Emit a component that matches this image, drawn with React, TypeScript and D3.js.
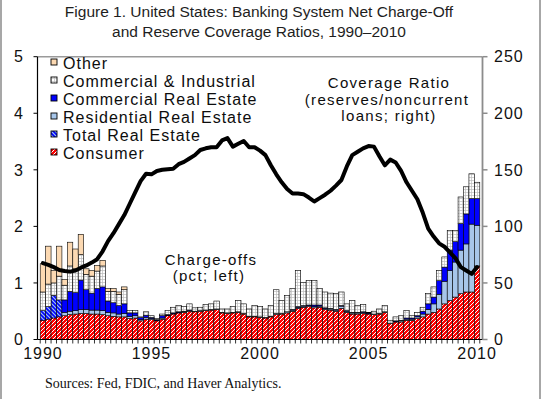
import React from 'react';
import * as d3 from 'd3';

// quarterly data, 1990Q1 .. 2010Q1
const quarters = d3.range(81).map(i => (1990 + Math.floor(i / 4)) + 'Q' + ((i % 4) + 1));

// net charge-offs, pct of loans (left axis)
const consumer = [
  0.34, 0.36, 0.38, 0.40, 0.42, 0.44, 0.45, 0.46, 0.46, 0.45,
  0.45, 0.44, 0.42, 0.41, 0.40, 0.40, 0.37, 0.38, 0.33, 0.36,
  0.35, 0.33, 0.36, 0.42, 0.45, 0.47, 0.48, 0.50, 0.49, 0.50,
  0.51, 0.52, 0.53, 0.47, 0.46, 0.47, 0.48, 0.45, 0.40, 0.40,
  0.39, 0.38, 0.40, 0.44, 0.45, 0.47, 0.50, 0.55, 0.57, 0.58,
  0.56, 0.57, 0.53, 0.52, 0.50, 0.55, 0.48, 0.45, 0.45, 0.46,
  0.45, 0.44, 0.45, 0.48, 0.28, 0.31, 0.31, 0.34, 0.34, 0.37,
  0.40, 0.45, 0.48, 0.54, 0.63, 0.69, 0.75, 0.81, 0.84, 0.84,
  1.30,
];
const totalRealEstate = [
  0.17, 0.22, 0.40, 0.30, 0, 0, 0, 0, 0, 0,
  0, 0, 0, 0, 0, 0, 0, 0, 0, 0,
  0, 0, 0, 0, 0, 0, 0, 0, 0, 0,
  0, 0, 0, 0, 0, 0, 0, 0, 0, 0,
  0, 0, 0, 0, 0, 0, 0, 0, 0, 0,
  0, 0, 0, 0, 0, 0, 0, 0, 0, 0,
  0, 0, 0, 0, 0, 0, 0, 0, 0, 0,
  0, 0, 0, 0, 0, 0, 0, 0, 0, 0,
  0,
];
const residentialRealEstate = [
  0, 0, 0, 0, 0.06, 0.06, 0.06, 0.07, 0.07, 0.07,
  0.07, 0.07, 0.06, 0.06, 0.05, 0.06, 0.04, 0.04, 0.02, 0.03,
  0.02, 0.01, 0.02, 0.01, 0.01, 0.01, 0.01, 0.01, 0.01, 0.01,
  0.01, 0.01, 0.01, 0.01, 0.01, 0.01, 0.01, 0.01, 0.01, 0.01,
  0.01, 0.01, 0.01, 0.02, 0.01, 0.02, 0.02, 0.02, 0.02, 0.02,
  0.02, 0.02, 0.02, 0.02, 0.02, 0.04, 0.02, 0.02, 0.02, 0.02,
  0.01, 0.01, 0.01, 0.01, 0.01, 0.01, 0.02, 0.02, 0.02, 0.03,
  0.05, 0.08, 0.15, 0.26, 0.40, 0.53, 0.62, 0.77, 0.85, 1.20,
  0.72,
];
const commercialRealEstate = [
  0, 0, 0, 0, 0.22, 0.35, 0.32, 0.52, 0.35, 0.30,
  0.38, 0.42, 0.20, 0.18, 0.15, 0.17, 0.06, 0.05, 0.04, 0.04,
  0.02, 0.01, 0.04, 0.01, 0.01, 0.01, 0.01, 0.01, 0, 0,
  0, 0, 0, 0, 0, 0, 0, 0, 0, 0,
  0, 0, 0, 0, 0, 0, 0.01, 0.01, 0.01, 0.01,
  0.03, 0.02, 0.01, 0.01, 0.01, 0.01, 0.01, 0.01, 0.01, 0.01,
  0.01, 0, 0, 0, 0, 0.01, 0.01, 0.02, 0.02, 0.02,
  0.05, 0.10, 0.12, 0.24, 0.25, 0.36, 0.36, 0.47, 0.53, 0.45,
  0.47,
];
const commercialIndustrial = [
  0.33, 0.40, 0.22, 0.42, 0.26, 0.45, 0.42, 0.45, 0.27, 0.30,
  0.31, 0.37, 0.17, 0.20, 0.20, 0.25, 0.04, 0.04, 0.01, 0.06,
  0.03, 0.02, 0.03, 0.07, 0.10, 0.11, 0.08, 0.11, 0.06, 0.06,
  0.10, 0.10, 0.14, 0.06, 0.07, 0.10, 0.20, 0.17, 0.13, 0.19,
  0.18, 0.15, 0.19, 0.42, 0.23, 0.29, 0.37, 0.64, 0.41, 0.43,
  0.43, 0.29, 0.28, 0.27, 0.28, 0.24, 0.12, 0.21, 0.12, 0.13,
  0.01, 0.05, 0.08, 0.11, 0.05, 0.07, 0.08, 0.13, 0.04, 0.06,
  0.07, 0.18, 0.18, 0.18, 0.18, 0.35, 0.20, 0.47, 0.48, 0.44,
  0.29,
];
const other = [
  0.50, 0.67, 0.22, 0.53, 0.10, 0.42, 0.35, 0.36, 0.10, 0.10,
  0.10, 0.10, 0.05, 0.05, 0.04, 0.05, 0, 0, 0, 0,
  0, 0, 0, 0, 0, 0, 0, 0, 0, 0,
  0, 0, 0, 0, 0, 0, 0, 0, 0, 0,
  0, 0, 0, 0, 0, 0, 0, 0, 0, 0,
  0, 0, 0, 0, 0, 0, 0, 0, 0, 0,
  0, 0, 0, 0, 0, 0, 0, 0, 0, 0,
  0, 0, 0, 0, 0, 0, 0, 0, 0, 0,
  0,
];

// reserves / noncurrent loans, pct (right axis)
const coverageRatio = [
  67.5, 66, 64, 61.5, 60.5, 60, 61, 63.5, 65.5, 68,
  71, 78, 87, 94, 102, 110, 120, 130, 140, 146.5,
  146, 149, 150, 150.5, 151, 155, 157, 160, 163, 167.5,
  169, 170, 170, 176, 178, 170.5, 173, 175.5, 170, 170,
  167, 163, 154, 146, 139, 133, 129, 129, 128.5, 125.5,
  122, 125, 128, 131.5, 136, 141, 153, 163, 166, 169,
  171, 170.5, 162, 154, 159, 156.5, 149, 139, 131.5, 124,
  112, 98, 91, 85, 82, 77, 72, 64, 61, 58,
  64,
];

const leftTicks = [0, 1, 2, 3, 4, 5];
const rightTicks = [0, 50, 100, 150, 200, 250];
const yearLabels = ['1990', '1995', '2000', '2005', '2010'];

const seriesKeys = ['consumer', 'totalRE', 'residentialRE', 'commercialRE', 'commercialIndustrial', 'other'];
const seriesNames = ['Consumer', 'Total Real Estate', 'Residential Real Estate', 'Commercial Real Estate', 'Commercial & Industrial', 'Other'];
const seriesValues = [consumer, totalRealEstate, residentialRealEstate, commercialRealEstate, commercialIndustrial, other];
const seriesFills = ['url(#hatch-consumer)', 'url(#hatch-totalre)', '#a7c6ea', '#0000ff', 'url(#grid-ci)', '#fcd9b2'];

const FONT = '"Liberation Sans", Arial, sans-serif';

class ChargeOffChart extends React.Component {
  node: any = null;

  componentDidMount() {
    this.draw();
  }

  componentDidUpdate() {
    this.draw();
  }

  draw() {
    var left = 37.5, right = 482.5, top = 56.7, bottom = 339.5;

    var svg = d3.select(this.node);
    svg.selectAll('*').remove();

    // fill patterns
    var defs = svg.append('defs');
    var hc = defs.append('pattern').attr('id', 'hatch-consumer')
      .attr('patternUnits', 'userSpaceOnUse').attr('width', 4).attr('height', 4);
    hc.append('rect').attr('width', 4).attr('height', 4).attr('fill', '#ff0000');
    hc.append('path').attr('d', 'M-1,1 L1,-1 M0,4 L4,0 M3,5 L5,3')
      .attr('stroke', '#ffffff').attr('stroke-width', 1);

    var ht = defs.append('pattern').attr('id', 'hatch-totalre')
      .attr('patternUnits', 'userSpaceOnUse').attr('width', 4).attr('height', 4);
    ht.append('rect').attr('width', 4).attr('height', 4).attr('fill', '#0000ff');
    ht.append('path').attr('d', 'M-1,3 L1,5 M0,0 L4,4 M3,-1 L5,1')
      .attr('stroke', '#9fc3f0').attr('stroke-width', 1.2);

    var gc = defs.append('pattern').attr('id', 'grid-ci')
      .attr('patternUnits', 'userSpaceOnUse').attr('width', 3).attr('height', 3);
    gc.append('rect').attr('width', 3).attr('height', 3).attr('fill', '#ffffff');
    gc.append('path').attr('d', 'M0,0.5 H3 M0.5,0 V3')
      .attr('stroke', '#bdbdbd').attr('stroke-width', 0.7);

    var x = d3.scaleBand().domain(quarters).range([left, right]).paddingInner(0).paddingOuter(0.5);
    var y = d3.scaleLinear().domain([0, 5]).range([bottom, top]);
    var yRight = d3.scaleLinear().domain([0, 250]).range([bottom, top]);

    var table = quarters.map((q, i) => {
      var row: any = { quarter: q };
      seriesKeys.forEach((k, s) => { row[k] = seriesValues[s][i]; });
      return row;
    });
    var layers = d3.stack().keys(seriesKeys)(table);

    // title
    svg.append('text').attr('x', 259).attr('y', 17).attr('text-anchor', 'middle')
      .style('font-family', FONT).style('font-size', '15.5px').attr('fill', '#1e1e1e')
      .text('Figure 1. United States: Banking System Net Charge-Off');
    svg.append('text').attr('x', 259).attr('y', 37).attr('text-anchor', 'middle')
      .style('font-family', FONT).style('font-size', '15.5px').attr('fill', '#1e1e1e')
      .text('and Reserve Coverage Ratios, 1990\u20132010');

    // bars
    var bars = svg.append('g');
    layers.forEach((layer, li) => {
      bars.selectAll(null)
        .data(layer.filter(d => d[1] - d[0] > 0.001))
        .enter()
        .append('rect')
        .attr('x', d => x(d.data.quarter))
        .attr('width', x.bandwidth())
        .attr('y', d => y(d[1]))
        .attr('height', d => y(d[0]) - y(d[1]))
        .attr('fill', seriesFills[li])
        .attr('stroke', '#000')
        .attr('stroke-width', 0.6);
    });

    // frame
    svg.append('line').attr('x1', left).attr('x2', right).attr('y1', top).attr('y2', top)
      .attr('stroke', '#9a9a9a').attr('stroke-width', 1.5);
    svg.append('line').attr('x1', right).attr('x2', right).attr('y1', top).attr('y2', bottom)
      .attr('stroke', '#8c8c8c').attr('stroke-width', 1.8);
    svg.append('line').attr('x1', left).attr('x2', left).attr('y1', top).attr('y2', bottom)
      .attr('stroke', '#000').attr('stroke-width', 1.2);
    svg.append('line').attr('x1', left).attr('x2', right).attr('y1', bottom).attr('y2', bottom)
      .attr('stroke', '#000').attr('stroke-width', 1.2);

    // left axis
    svg.selectAll(null).data(leftTicks).enter().append('line')
      .attr('x1', left - 4).attr('x2', left).attr('y1', d => y(d)).attr('y2', d => y(d))
      .attr('stroke', '#000').attr('stroke-width', 1);
    svg.selectAll(null).data(leftTicks).enter().append('text')
      .attr('x', 23).attr('y', d => y(d)).attr('dy', '0.36em').attr('text-anchor', 'end')
      .style('font-family', FONT).style('font-size', '16px').attr('fill', '#111')
      .text(d => d);

    // right axis
    svg.selectAll(null).data(rightTicks).enter().append('line')
      .attr('x1', right).attr('x2', right + 5).attr('y1', d => yRight(d)).attr('y2', d => yRight(d))
      .attr('stroke', '#8c8c8c').attr('stroke-width', 1.5);
    svg.selectAll(null).data(rightTicks).enter().append('text')
      .attr('x', 494).attr('y', d => yRight(d)).attr('dy', '0.36em')
      .style('font-family', FONT).style('font-size', '16px').style('letter-spacing', '1px').attr('fill', '#111')
      .text(d => d);

    // x axis: a tick at every quarter boundary
    var edges = quarters.map(q => x(q)).concat([x(quarters[quarters.length - 1]) + x.step()]);
    svg.selectAll(null).data(edges).enter().append('line')
      .attr('x1', d => d).attr('x2', d => d)
      .attr('y1', bottom).attr('y2', bottom + 4)
      .attr('stroke', '#000').attr('stroke-width', 0.8);
    svg.selectAll(null).data(yearLabels).enter().append('text')
      .attr('x', d => x(d + 'Q1') + x.bandwidth() / 2)
      .attr('y', 359).attr('text-anchor', 'middle')
      .style('font-family', FONT).style('font-size', '16px').style('letter-spacing', '1px').attr('fill', '#111')
      .text(d => d);

    // coverage ratio line
    var line = d3.line()
      .x((d, i) => x(quarters[i]) + x.bandwidth() / 2)
      .y(d => yRight(d));
    svg.append('path').datum(coverageRatio).attr('d', line)
      .attr('fill', 'none').attr('stroke', '#000').attr('stroke-width', 4)
      .attr('stroke-linejoin', 'round').attr('stroke-linecap', 'round');

    // legend (top to bottom is the reverse of the stack)
    var legendIdx = d3.range(seriesKeys.length).reverse();
    var legend = svg.append('g');
    legendIdx.forEach((s, row) => {
      var base = 68.5 + row * 18;
      legend.append('rect').attr('x', 51).attr('y', base - 9.5).attr('width', 6).attr('height', 6)
        .attr('fill', seriesFills[s]).attr('stroke', '#000').attr('stroke-width', 0.9);
      legend.append('text').attr('x', 63).attr('y', base)
        .style('font-family', FONT).style('font-size', '16px').style('letter-spacing', '1px').attr('fill', '#0d0d0d')
        .text(seriesNames[s]);
    });

    // annotations
    var notes = [
      ['Coverage Ratio', 389, 88],
      ['(reserves/noncurrent', 387, 104.5],
      ['loans; right)', 389, 120.5],
      ['Charge-offs', 211, 264.5],
      ['(pct; left)', 209, 281],
    ];
    svg.selectAll(null).data(notes).enter().append('text')
      .attr('x', d => d[1]).attr('y', d => d[2]).attr('text-anchor', 'middle')
      .style('font-family', FONT).style('font-size', '15px').style('letter-spacing', '1.3px').attr('fill', '#0d0d0d')
      .text(d => d[0]);

    // source
    svg.append('text').attr('x', 45).attr('y', 388)
      .style('font-family', '"Liberation Serif", "Times New Roman", serif').style('font-size', '14px').attr('fill', '#111')
      .text('Sources: Fed, FDIC, and Haver Analytics.');

    // outer frame
    svg.append('line').attr('x1', 1).attr('x2', 1).attr('y1', 0).attr('y2', 399)
      .attr('stroke', '#8a8a8a').attr('stroke-width', 1.5);
    svg.append('line').attr('x1', 540).attr('x2', 540).attr('y1', 0).attr('y2', 399)
      .attr('stroke', '#8a8a8a').attr('stroke-width', 1.5);
  }

  render() {
    return (
      <div style={{ position: 'absolute', left: 0, top: 0 }}>
        <svg ref={n => { this.node = n; }} width={545} height={399} style={{ display: 'block', background: '#fff' }} />
      </div>
    );
  }
}

export default function App() {
  return <ChargeOffChart />;
}
